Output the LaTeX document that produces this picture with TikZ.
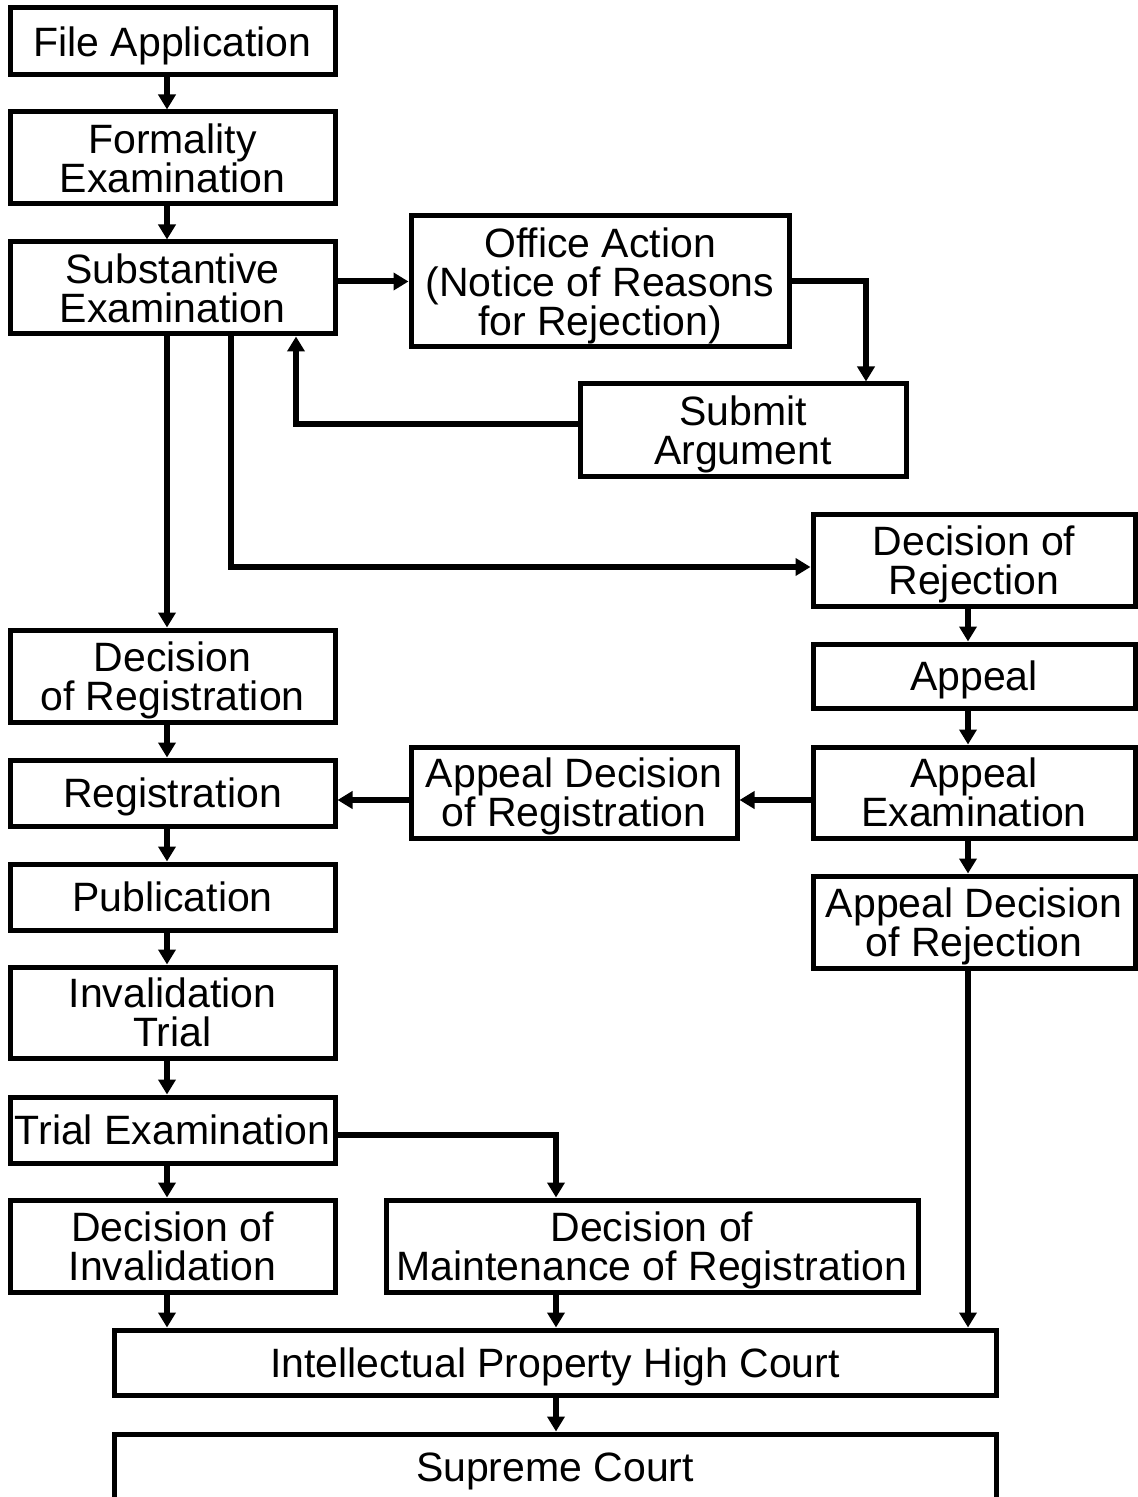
\documentclass[tikz,border=0pt]{standalone}
\usepackage{fontspec}
\setmainfont{Liberation Sans}
\usetikzlibrary{arrows.meta,calc}
\begin{document}
\begin{tikzpicture}[x=0.5pt,y=-0.5pt,
  box/.style={draw=black, line width=2.5pt, rectangle, align=center, inner sep=0pt,
    text depth=0pt, font=\fontsize{20.5}{19.5}\selectfont},
  arr/.style={draw=black, line width=3pt, -{Triangle[length=7.5pt,width=8.5pt]}}]
\useasboundingbox (0,0) rectangle (1137,1497);
\fill[white] (0,0) rectangle (1137,1497);
% columns and rows
\coordinate (c1) at (167,0);
\coordinate (c2) at (231,0);
\coordinate (c3) at (296,0);
\coordinate (c4) at (866,0);
\coordinate (c5) at (968,0);
\coordinate (c6) at (556,0);
\coordinate (r1) at (0,800);
\coordinate (r2) at (0,567);
\coordinate (r3) at (0,424);
\coordinate (r4) at (0,1135);
% nodes
\node[box, minimum width=162.5pt, minimum height=33.5pt] (fa) at (172.5,41.5) {File Application};
\node[box, minimum width=162.5pt, minimum height=46pt] (fe) at (172.5,158) {Formality\\Examination};
\node[box, minimum width=162.5pt, minimum height=46pt] (se) at (172.5,288) {Substantive\\Examination};
\node[box, minimum width=189pt, minimum height=65.5pt] (oa) at (600,281.5) {Office Action\\(Notice of Reasons\\for Rejection)};
\node[box, minimum width=163pt, minimum height=46pt] (sa) at (743,430) {Submit\\Argument};
\node[box, minimum width=161pt, minimum height=46pt] (dr) at (974,560) {Decision of\\Rejection};
\node[box, minimum width=161pt, minimum height=32pt] (ap) at (974,676) {Appeal};
\node[box, minimum width=161pt, minimum height=45.5pt] (ae) at (974,792.5) {Appeal\\Examination};
\node[box, minimum width=163pt, minimum height=45.5pt] (adr) at (574,792.5) {Appeal Decision\\of Registration};
\node[box, minimum width=161pt, minimum height=46pt] (adj) at (974,922) {Appeal Decision\\of Rejection};
\node[box, minimum width=162.5pt, minimum height=46pt] (dreg) at (172.5,676) {Decision\\of Registration};
\node[box, minimum width=162.5pt, minimum height=33pt] (reg) at (172.5,793) {Registration};
\node[box, minimum width=162.5pt, minimum height=33pt] (pub) at (172.5,897) {Publication};
\node[box, minimum width=162.5pt, minimum height=45.5pt] (it) at (172.5,1012.5) {Invalidation\\Trial};
\node[box, minimum width=162.5pt, minimum height=33pt] (te) at (172.5,1130) {Trial Examination};
\node[box, minimum width=162.5pt, minimum height=46pt] (di) at (172.5,1246) {Decision of\\Invalidation};
\node[box, minimum width=266pt, minimum height=46pt] (dm) at (652,1246) {Decision of\\Maintenance of Registration};
\node[box, minimum width=441pt, minimum height=32.5pt] (ip) at (555,1362.5) {Intellectual Property High Court};
\node[box, minimum width=441pt, minimum height=33pt] (sc) at (555,1467) {Supreme Court};
% connectors
\draw[arr] (fa.south -| c1) -- (fe.north -| c1);
\draw[arr] (fe.south -| c1) -- (se.north -| c1);
\draw[arr] (se.east |- oa.west) -- (oa.west);
\draw[arr] (oa.east) -- (oa.east -| c4) -- (sa.north -| c4);
\draw[arr] (sa.west |- r3) -- (c3 |- r3) -- (se.south -| c3);
\draw[arr] (se.south -| c2) -- (c2 |- r2) -- (dr.west |- r2);
\draw[arr] (se.south -| c1) -- (dreg.north -| c1);
\draw[arr] (dreg.south -| c1) -- (reg.north -| c1);
\draw[arr] (reg.south -| c1) -- (pub.north -| c1);
\draw[arr] (pub.south -| c1) -- (it.north -| c1);
\draw[arr] (it.south -| c1) -- (te.north -| c1);
\draw[arr] (te.south -| c1) -- (di.north -| c1);
\draw[arr] (di.south -| c1) -- (ip.north -| c1);
\draw[arr] (te.east |- r4) -- (c6 |- r4) -- (dm.north -| c6);
\draw[arr] (dm.south -| c6) -- (ip.north -| c6);
\draw[arr] (ip.south -| c6) -- (sc.north -| c6);
\draw[arr] (dr.south -| c5) -- (ap.north -| c5);
\draw[arr] (ap.south -| c5) -- (ae.north -| c5);
\draw[arr] (ae.south -| c5) -- (adj.north -| c5);
\draw[arr] (adj.south -| c5) -- (ip.north -| c5);
\draw[arr] (ae.west |- r1) -- (adr.east |- r1);
\draw[arr] (adr.west |- r1) -- (reg.east |- r1);
\end{tikzpicture}
\end{document}
